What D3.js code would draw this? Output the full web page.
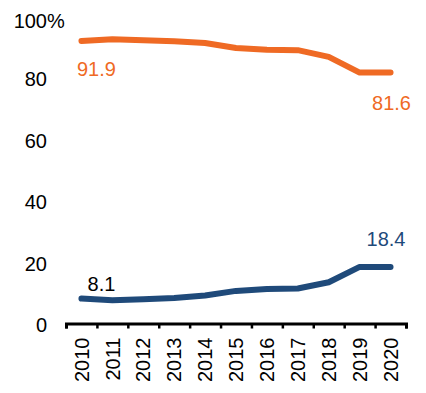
<!DOCTYPE html>
<meta charset="utf-8">
<style>
body { margin: 0; background: #fff; }
text { font-family: "Liberation Sans", Arial, sans-serif; font-size: 20px; }
.line { fill: none; stroke-width: 6px; stroke-linecap: round; stroke-linejoin: round; }
</style>
<body>
<script src="https://d3js.org/d3.v7.min.js"></script>
<script>

// data
var years = ["2010","2011","2012","2013","2014","2015","2016","2017","2018","2019","2020"];
var orangeValues = [91.9, 92.4, 92.1, 91.8, 91.2, 89.6, 89.0, 88.9, 86.7, 81.6, 81.6];
var blueValues = [8.1, 7.6, 7.9, 8.3, 9.1, 10.6, 11.2, 11.4, 13.4, 18.4, 18.4];
var yTicks = [0, 20, 40, 60, 80, 100];

var orange = "#ef6a24", blue = "#1f4a7a";

var width = 426, height = 393;

var svg = d3.select("body").append("svg")
    .attr("width", width)
    .attr("height", height);

// set the ranges
var x = d3.scaleBand().domain(years).range([66, 406]).padding(0);
var xEdge = d3.scaleLinear().domain([0, years.length]).range([66, 406]);
var y = d3.scaleLinear().domain([0, 100]).range([323.5, 16]);

// y axis labels (no line, no ticks)
var yAxis = svg.append("g")
    .attr("transform", "translate(47,0)")
    .call(d3.axisLeft(y).tickValues(yTicks).tickSize(0).tickPadding(0))
yAxis.select(".domain").remove();
yAxis.selectAll("text")
    .attr("fill", "#000")
    .style("font-size", "20px")
    .attr("dy", "0.4em");
yAxis.selectAll(".tick").filter(function(d) { return d === 100; })
    .select("text").attr("dy", "0.55em");
// the % sign hangs past the number
yAxis.selectAll(".tick").filter(function(d) { return d === 100; })
  .append("text")
    .attr("x", 0)
    .attr("dy", "0.55em")
    .attr("fill", "#000")
    .attr("text-anchor", "start")
    .style("font-size", "20px")
    .text("%");

// x axis: ticks on band edges
var xAxis = svg.append("g")
    .attr("transform", "translate(0," + y(0) + ")")
    .call(d3.axisBottom(xEdge).ticks(years.length).tickSize(5).tickSizeOuter(5).tickFormat(""));
xAxis.select(".domain").attr("stroke", "#000").attr("stroke-width", 3);
xAxis.selectAll(".tick line").attr("stroke", "#000").attr("stroke-width", 2.5);

// year labels, rotated
var xLab = svg.append("g")
    .attr("transform", "translate(0," + y(0) + ")")
    .call(d3.axisBottom(x).tickSize(0).tickPadding(0));
xLab.select(".domain").remove();
xLab.selectAll("text")
    .attr("fill", "#000")
    .style("font-size", "20px")
    .attr("text-anchor", "end")
    .attr("transform", "rotate(-90)")
    .attr("x", -14)
    .attr("y", 0)
    .attr("dy", "0.36em");

var line = d3.line()
    .x(function(d, i) { return x(years[i]) + x.bandwidth() / 2; })
    .y(function(d) { return y(d); });

svg.append("path")
    .attr("class", "line")
    .attr("stroke", orange)
    .attr("d", line(orangeValues));

svg.append("path")
    .attr("class", "line")
    .attr("stroke", blue)
    .attr("d", line(blueValues));

var cx = function(i) { return x(years[i]) + x.bandwidth() / 2; };
var last = years.length - 1;

// value labels
svg.append("text").attr("x", cx(0) - 4.5).attr("y", y(orangeValues[0]) + 35)
    .attr("fill", orange).text(orangeValues[0].toFixed(1));
svg.append("text").attr("x", cx(last) + 1).attr("y", y(orangeValues[last]) + 37)
    .attr("text-anchor", "middle").attr("fill", orange).text(orangeValues[last].toFixed(1));
svg.append("text").attr("x", cx(0) + 20).attr("y", y(blueValues[0]) - 8)
    .attr("text-anchor", "middle").attr("fill", "#000").text(blueValues[0].toFixed(1));
svg.append("text").attr("x", cx(last) - 4.5).attr("y", y(blueValues[last]) - 21)
    .attr("text-anchor", "middle").attr("fill", blue).text(blueValues[last].toFixed(1));

</script>
</body>
